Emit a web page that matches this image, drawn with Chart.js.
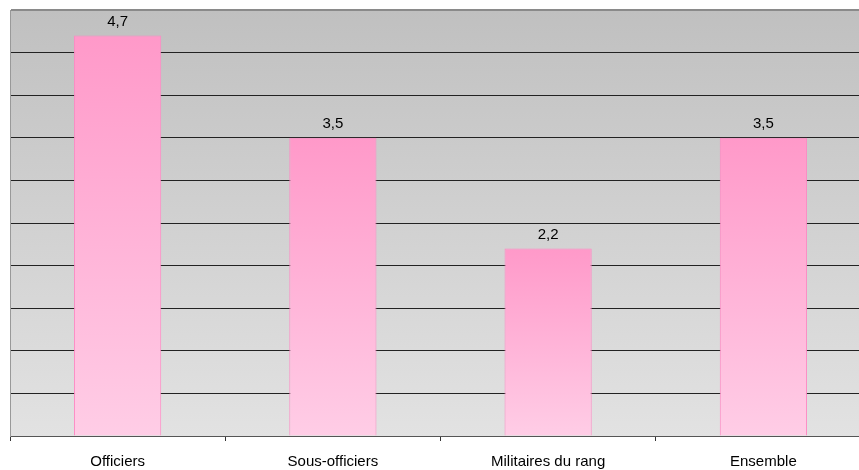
<!DOCTYPE html>
<html>
<head>
<meta charset="utf-8">
<script src="https://cdn.jsdelivr.net/npm/chart.js@4/dist/chart.umd.min.js"></script>
<style>
  html, body { margin: 0; padding: 0; background: #fff; overflow: hidden; }
  #wrap { width: 859px; height: 470px; overflow: hidden; }
</style>
</head>
<body>
<div id="wrap"><canvas id="chart0" width="871" height="483"></canvas></div>
<script>
var categories = ["Officiers", "Sous-officiers", "Militaires du rang", "Ensemble"];
var values = [4.7, 3.5, 2.2, 3.5];

document.addEventListener("DOMContentLoaded", function() {
  var ctx = document.getElementById("chart0").getContext("2d");

  // grey gradient behind the plot area
  var plotBackground = {
    id: "plotBackground",
    beforeDraw: function(chart) {
      var a = chart.chartArea;
      var c = chart.ctx;
      var g = c.createLinearGradient(0, a.top, 0, a.bottom);
      g.addColorStop(0, "#c0c0c0");
      g.addColorStop(1, "#e2e2e2");
      c.save();
      c.fillStyle = g;
      c.fillRect(a.left, a.top, a.right - a.left, a.bottom - a.top);
      c.restore();
    }
  };

  // value labels above the bars, french decimal comma
  var valueLabels = {
    id: "valueLabels",
    afterDatasetsDraw: function(chart) {
      var c = chart.ctx;
      var meta = chart.getDatasetMeta(0);
      c.save();
      c.font = "15px 'Liberation Sans', Arial, sans-serif";
      c.fillStyle = "#000";
      c.textAlign = "center";
      c.textBaseline = "bottom";
      meta.data.forEach(function(bar, i) {
        c.fillText(values[i].toFixed(1).replace(".", ","), bar.x, bar.y - 6);
      });
      c.restore();
    }
  };

  var chart0 = new Chart(ctx, {
    type: "bar",
    data: {
      labels: categories,
      datasets: [{
        data: values,
        backgroundColor: function(context) {
          var chart = context.chart;
          if (!chart.chartArea) return "#ff99cc";
          var y = chart.scales.y;
          var top = y.getPixelForValue(values[context.dataIndex]);
          var base = y.getPixelForValue(0);
          var g = chart.ctx.createLinearGradient(0, top, 0, base);
          g.addColorStop(0, "#ff99c9");
          g.addColorStop(1, "#ffcde6");
          return g;
        },
        borderColor: "#ff88c4",
        borderWidth: 1,
        borderSkipped: "bottom",
        categoryPercentage: 1,
        barPercentage: 0.405
      }]
    },
    plugins: [plotBackground, valueLabels],
    options: {
      responsive: false,
      animation: false,
      layout: { padding: { left: 10, top: 10, right: 0, bottom: 0 } },
      plugins: {
        legend: { display: false },
        tooltip: { enabled: false }
      },
      scales: {
        x: {
          grid: {
            display: true,
            drawOnChartArea: false,
            drawTicks: true,
            tickLength: 5,
            color: "#333"
          },
          border: { display: true, color: "#555", width: 1 },
          ticks: {
            color: "#000",
            padding: 12,
            font: { family: "'Liberation Sans', Arial, sans-serif", size: 15 },
            maxRotation: 0
          }
        },
        y: {
          min: 0,
          max: 5,
          ticks: { display: false, stepSize: 0.5 },
          grid: {
            drawTicks: false,
            color: function(context) {
              if (context.tick.value === 5) return "#8a8a8a";
              if (context.tick.value === 0) return "rgba(0,0,0,0)";
              return "#222";
            },
            lineWidth: function(context) {
              return context.tick.value === 5 ? 2 : 1;
            }
          },
          border: { display: true, color: "#999", width: 1 }
        }
      }
    }
  });
});
</script>
</body>
</html>
